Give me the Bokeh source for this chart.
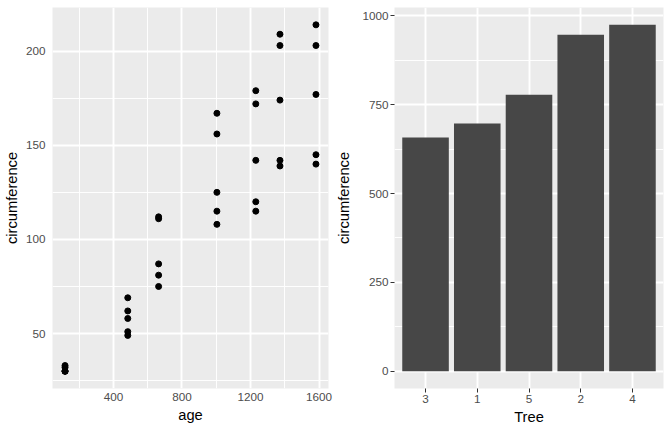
from bokeh.plotting import figure
from bokeh.models import Range1d, FactorRange, FixedTicker, ColumnDataSource
from bokeh.layouts import row
from bokeh.embed import file_html
from bokeh.resources import INLINE

# Orange tree data
ages = [118, 484, 664, 1004, 1231, 1372, 1582]
circ_tree1 = [30, 58, 87, 115, 120, 142, 145]
circ_tree2 = [33, 69, 111, 156, 172, 203, 203]
circ_tree3 = [30, 51, 75, 108, 115, 139, 140]
circ_tree4 = [32, 62, 112, 167, 179, 209, 214]
circ_tree5 = [30, 49, 81, 125, 142, 174, 177]

tree_order = ["3", "1", "5", "2", "4"]
tree_totals = [658, 697, 778, 947, 975]

x_ticks = [400, 800, 1200, 1600]
x_minor = [200, 600, 1000, 1400]
y_ticks = [50, 100, 150, 200]
y_minor = [25, 75, 125, 175]
bar_ticks = [0, 250, 500, 750, 1000]
bar_minor = [125, 375, 625, 875]

FONT = "Liberation Sans"
BG = "#EBEBEB"


def style(p, ticks_out):
    p.background_fill_color = BG
    p.border_fill_color = "white"
    p.outline_line_color = None
    for ax in p.axis:
        ax.axis_line_color = None
        ax.major_tick_line_color = "#333333"
        ax.major_tick_out = ticks_out
        ax.major_tick_in = 0
        ax.minor_tick_out = 0
        ax.minor_tick_in = 0
        ax.major_label_text_font = FONT
        ax.major_label_text_font_size = "11.7px"
        ax.major_label_text_color = "#4D4D4D"
        ax.axis_label_text_font = FONT
        ax.axis_label_text_font_size = "14.7px"
        ax.axis_label_text_font_style = "normal"
        ax.axis_label_text_color = "black"
    for g in p.grid:
        g.grid_line_color = "white"
        g.grid_line_width = 1.9
        g.minor_grid_line_color = "white"
        g.minor_grid_line_width = 0.95


# Left: scatter
all_age = ages * 5
all_circ = circ_tree1 + circ_tree2 + circ_tree3 + circ_tree4 + circ_tree5
src = ColumnDataSource(dict(age=all_age, circ=all_circ))

xmin, xmax = min(all_age), max(all_age)
ymin, ymax = min(all_circ), max(all_circ)
xe = (xmax - xmin) * 0.05
ye = (ymax - ymin) * 0.05

p1 = figure(width=333, height=431, output_backend="svg", toolbar_location=None,
            x_range=Range1d(xmin - xe, xmax + xe), y_range=Range1d(ymin - ye, ymax + ye),
            min_border_left=51, min_border_right=5, min_border_top=7, min_border_bottom=43)
p1.scatter("age", "circ", source=src, size=6, color="black")
p1.xaxis.ticker = FixedTicker(ticks=x_ticks, minor_ticks=x_minor)
p1.yaxis.ticker = FixedTicker(ticks=y_ticks, minor_ticks=y_minor)
p1.xaxis.axis_label = "age"
p1.yaxis.axis_label = "circumference"
style(p1, 0)
p1.yaxis.major_label_standoff = 7
p1.yaxis.axis_label_standoff = 3
p1.xaxis.major_label_standoff = 4
p1.xaxis.axis_label_standoff = 3

# Right: bar chart
bsrc = ColumnDataSource(dict(tree=tree_order, total=tree_totals))
be = max(tree_totals) * 0.05
p2 = figure(width=338, height=431, output_backend="svg", toolbar_location=None,
            x_range=FactorRange(factors=tree_order, range_padding=0.04),
            y_range=Range1d(-be, max(tree_totals) + be),
            min_border_left=60, min_border_right=8, min_border_top=7, min_border_bottom=43)
p2.vbar(x="tree", top="total", bottom=0, width=0.9, source=bsrc,
        fill_color="#474747", line_color=None)
p2.yaxis.ticker = FixedTicker(ticks=bar_ticks, minor_ticks=bar_minor)
p2.xaxis.axis_label = "Tree"
p2.yaxis.axis_label = "circumference"
style(p2, 4)
p2.yaxis.major_label_standoff = 2
p2.yaxis.axis_label_standoff = 7
p2.xaxis.major_label_standoff = 2
p2.xaxis.axis_label_standoff = 3

layout = row(p1, p2, spacing=0)
open("out.html", "w").write(file_html(layout, INLINE))
